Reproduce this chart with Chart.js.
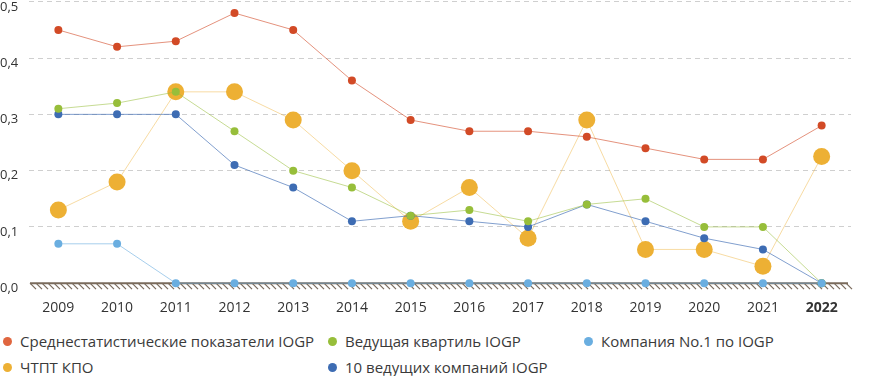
<!DOCTYPE html>
<html><head><meta charset="utf-8">
<script src="https://cdn.jsdelivr.net/npm/chart.js@4/dist/chart.umd.min.js"></script>
<style>
html,body{margin:0;padding:0;background:#fff;width:879px;height:376px;overflow:hidden;font-family:"Open Sans",sans-serif;}
#wrap{position:absolute;left:0;top:-14px;width:879px;height:338px;}
.lg{position:absolute;font-size:15px;color:#3a3a3a;white-space:nowrap;line-height:18px;}
.lg i{display:inline-block;width:9px;height:9px;border-radius:50%;margin-right:8px;vertical-align:1px;}
</style></head>
<body>
<div id="wrap"><canvas id="c" width="879" height="338"></canvas></div>
<div id="legend"></div>
<script>
const years = ['2009','2010','2011','2012','2013','2014','2015','2016','2017','2018','2019','2020','2021','2022'];
const yTicks = [0,0.1,0.2,0.3,0.4,0.5];
const iogpAvg   = [0.45,0.42,0.43,0.48,0.45,0.36,0.29,0.27,0.27,0.26,0.24,0.22,0.22,0.28];
const topQuart  = [0.31,0.32,0.34,0.27,0.20,0.17,0.12,0.13,0.11,0.14,0.15,0.10,0.10,0.00];
const company1  = [0.07,0.07,0,0,0,0,0,0,0,0,0,0,0,0];
const kpo       = [0.13,0.18,0.34,0.34,0.29,0.20,0.11,0.17,0.08,0.29,0.06,0.06,0.03,0.225];
const top10     = [0.30,0.30,0.30,0.21,0.17,0.11,0.12,0.11,0.10,0.14,0.11,0.08,0.06,0.00];
const names = ['Среднестатистические показатели IOGP','Ведущая квартиль IOGP','Компания No.1 по IOGP','ЧТПТ КПО','10 ведущих компаний IOGP'];

const series = [
  {label:names[2], data:company1, line:'rgba(106,174,224,0.6)', pt:'#6aaee0', r:4},
  {label:names[1], data:topQuart, line:'rgba(151,190,58,0.55)', pt:'#97be3a', r:4},
  {label:names[4], data:top10,   line:'rgba(61,108,179,0.65)', pt:'#3d6cb3', r:4},
  {label:names[0], data:iogpAvg, line:'rgba(210,74,38,0.6)', pt:'#d24a26', r:4},
  {label:names[3], data:kpo,     line:'rgba(237,176,52,0.45)', pt:'#edb034', r:8.5}
];

const hatch = {
  id:'hatch',
  beforeDatasetsDraw(chart){
    const {ctx, chartArea:a, scales:{y}} = chart;
    const y0 = y.getPixelForValue(0);
    ctx.save();
    ctx.strokeStyle = '#7a6b5c';
    ctx.lineWidth = 1.2;
    for(let x=a.left+1; x<=a.right-3; x+=6){
      ctx.beginPath(); ctx.moveTo(x, y0); ctx.lineTo(x+6, y0+6); ctx.stroke();
    }
    ctx.lineWidth = 2;
    ctx.beginPath(); ctx.moveTo(a.left+1, y0); ctx.lineTo(a.right-3, y0); ctx.stroke();
    ctx.restore();
  }
};

new Chart(document.getElementById('c'), {
  type:'line',
  data:{labels:years, datasets: series.map(s=>({
    label:s.label, data:s.data, borderColor:s.line, borderWidth:1,
    pointBackgroundColor:s.pt, pointBorderColor:s.pt, pointBorderWidth:0,
    pointRadius:s.r, pointHoverRadius:s.r, tension:0, clip:false
  }))},
  options:{
    responsive:false, animation:false,
    layout:{padding:{top:1,right:28,left:0,bottom:0}},
    plugins:{legend:{display:false}, tooltip:{enabled:false}},
    scales:{
      x:{offset:true, grid:{display:false}, border:{display:false},
         ticks:{padding:8, color:'#333', font:(c)=>({family:'Open Sans', size:14, weight: c.index===13?'bold':'normal'})}},
      y:{min:0, max:0.5, afterBuildTicks:(ax)=>{ax.ticks = yTicks.map(v=>({value:v}));},
         afterFit:(ax)=>{ax.width = 29;},
         border:{display:false, dash:[5,4]},
         grid:{color:(c)=>c.tick.value===0?'rgba(0,0,0,0)':'#cfcfcf', lineWidth:1, drawTicks:false},
         ticks:{padding:8, labelOffset:5, crossAlign:'far', color:'#333', font:{family:'Open Sans', size:13},
           callback:(v)=>Number(v).toFixed(1).replace('.',',')}}
    }
  },
  plugins:[hatch]
});

const leg = [
  [names[0],'#e0663f',8,341],[names[1],'#97be3a',333,341],[names[2],'#6aaee0',589,341],
  [names[3],'#edb034',8,367],[names[4],'#3d6cb3',333,367]
];
const L = document.getElementById('legend');
leg.forEach(([t,c,x,y])=>{
  const d=document.createElement('div'); d.className='lg';
  d.style.left=(x-5)+'px'; d.style.top=(y-9)+'px';
  d.innerHTML='<i style="background:'+c+'"></i>'+t; L.appendChild(d);
});
</script>
</body></html>
